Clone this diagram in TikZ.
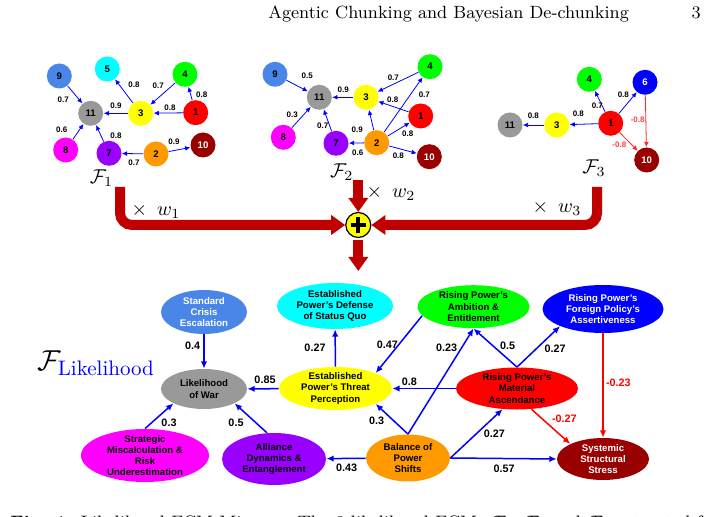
\documentclass[tikz,border=0pt]{standalone}
\usepackage{fontspec}
\setsansfont{Liberation Sans}
\usepackage{amsmath}
\usetikzlibrary{shapes.geometric,arrows.meta,positioning}

\definecolor{fcmcfblue}{HTML}{4A86E8}
\definecolor{fcmcyan}{HTML}{00FFFF}
\definecolor{fcmgreen}{HTML}{00FF00}
\definecolor{fcmblue}{HTML}{0000FF}
\definecolor{fcmyellow}{HTML}{FFFF00}
\definecolor{fcmred}{HTML}{FF0000}
\definecolor{fcmmagenta}{HTML}{FF00FF}
\definecolor{fcmgray}{HTML}{999999}
\definecolor{fcmpurple}{HTML}{9900FF}
\definecolor{fcmorange}{HTML}{FF9900}
\definecolor{fcmdarkred}{HTML}{990000}
\definecolor{mixred}{HTML}{C00000}

\begin{document}
\begin{tikzpicture}[x=0.5pt,y=-0.5pt,
  fnode/.style={circle,inner sep=0pt,minimum size=12.5pt,font=\fontsize{4.8}{5.8}\selectfont\sffamily\bfseries},
  fedge/.style={draw=fcmblue,line width=0.4pt,-{Latex[length=2.6pt,width=2.4pt]}},
  fnedge/.style={draw=fcmred!85,line width=0.4pt,-{Latex[length=2.6pt,width=2.4pt]}},
  flbl/.style={inner sep=0pt,font=\fontsize{4}{4.8}\selectfont\sffamily\bfseries},
  bnode/.style={ellipse,inner xsep=0pt,inner ysep=-1.5pt,align=center,font=\fontsize{4.8}{5.6}\selectfont\sffamily\bfseries},
  bedge/.style={draw=fcmblue,line width=0.75pt,-{Latex[length=3.6pt,width=3.2pt]}},
  bnedge/.style={draw=fcmred,line width=0.75pt,-{Latex[length=3.6pt,width=3.2pt]}},
  blbl/.style={inner sep=0pt,font=\fontsize{5.4}{6.4}\selectfont\sffamily\bfseries},
  mixarrow/.style={draw=mixred,line width=5pt,-{Triangle[length=7pt,width=9.5pt]}},
  sumnode/.style={circle,draw=black,line width=0.6pt,fill=fcmyellow,minimum size=12.5pt,inner sep=0pt},
  wlbl/.style={inner sep=0pt,font=\fontsize{10}{12}\selectfont}]
\useasboundingbox (0,0) rectangle (704,517);
\clip (0,0) rectangle (704,517);

\node[anchor=base west,inner sep=0pt,font=\fontsize{8.85}{11}\selectfont] (hdr) at (268,19) {Agentic Chunking and Bayesian De-chunking};
\node[anchor=base east,inner sep=0pt,font=\fontsize{8.85}{11}\selectfont] (pgno) at (701,19) {3};

% F1
\node[fnode,fill=fcmcfblue] (a9) at (59.3,76) {9};
\node[fnode,fill=fcmcyan] (a5) at (107.3,69) {5};
\node[fnode,fill=fcmgreen] (a4) at (185,74.3) {4};
\node[fnode,fill=fcmgray] (a11) at (90.7,113.3) {11};
\node[fnode,fill=fcmyellow] (a3) at (140.7,113.3) {3};
\node[fnode,fill=fcmred] (a1) at (195.7,112.7) {1};
\node[fnode,fill=fcmmagenta] (a8) at (65.7,150) {8};
\node[fnode,fill=fcmpurple] (a7) at (109,153.3) {7};
\node[fnode,fill=fcmorange] (a2) at (156,154) {2};
\node[fnode,fill=fcmdarkred,text=white] (a10) at (203,145) {10};
\draw[fedge] (a9) -- (a11) node[flbl] at (63.3,99.3) {0.7};
\draw[fedge] (a3) -- (a5) node[flbl] at (134,85) {0.8};
\draw[fedge] (a4) -- (a3) node[flbl] at (158.3,86) {0.7};
\draw[fedge] (a1) -- (a4) node[flbl] at (201.7,94.3) {0.8};
\draw[fedge] (a3) -- (a11) node[flbl] at (116,106) {0.9};
\draw[fedge] (a1) -- (a3) node[flbl] at (170,107.7) {0.8};
\draw[fedge] (a8) -- (a11) node[flbl] at (61.7,129.3) {0.6};
\draw[fedge] (a7) -- (a11) node[flbl] at (116,135.3) {0.8};
\draw[fedge] (a2) -- (a7) node[flbl] at (134,162.3) {0.7};
\draw[fedge] (a2) -- (a10) node[flbl] at (174,141.7) {0.9};
\node (f1lbl) at (101.5,178) {$\mathcal{F}_1$};

% F2
\node[fnode,fill=fcmcfblue] (b9) at (275,74.3) {9};
\node[fnode,fill=fcmgreen] (b4) at (430,66.7) {4};
\node[fnode,fill=fcmgray] (b11) at (319.3,97.3) {11};
\node[fnode,fill=fcmyellow] (b3) at (366,97.3) {3};
\node[fnode,fill=fcmred] (b1) at (420.7,116) {1};
\node[fnode,fill=fcmmagenta] (b8) at (283.3,137.3) {8};
\node[fnode,fill=fcmpurple] (b7) at (336,143.3) {7};
\node[fnode,fill=fcmorange] (b2) at (376.7,142.7) {2};
\node[fnode,fill=fcmdarkred,text=white] (b10) at (429.3,156.7) {10};
\draw[fedge] (b9) -- (b11) node[flbl] at (307.3,76) {0.5};
\draw[fedge] (b4) -- (b3) node[flbl] at (393.3,77.3) {0.7};
\draw[fedge] (b2) -- (b4) node[flbl] at (424.3,95) {0.7};
\draw[fedge] (b3) -- (b11) node[flbl] at (343.3,89.3) {0.9};
\draw[fedge] (b1) -- (b3) node[flbl] at (392.7,99.3) {0.8};
\draw[fedge] (b8) -- (b11) node[flbl] at (292.3,115) {0.3};
\draw[fedge] (b7) -- (b11) node[flbl] at (322.7,126) {0.7};
\draw[fedge] (b2) -- (b3) node[flbl] at (357.3,130) {0.9};
\draw[fedge] (b2) -- (b7) node[flbl] at (357.7,152.3) {0.6};
\draw[fedge] (b2) -- (b1) node[flbl] at (407.7,133.3) {0.8};
\draw[fedge] (b2) -- (b10) node[flbl] at (398.3,155.7) {0.8};
\node (f2lbl) at (341.7,171.7) {$\mathcal{F}_2$};

% F3
\node[fnode,fill=fcmgreen] (c4) at (589.3,79.3) {4};
\node[fnode,fill=fcmblue,text=white] (c6) at (645,82.3) {6};
\node[fnode,fill=fcmgray] (c11) at (510,125) {11};
\node[fnode,fill=fcmyellow] (c3) at (556.7,125) {3};
\node[fnode,fill=fcmred] (c1) at (610.7,123.3) {1};
\node[fnode,fill=fcmdarkred,text=white] (c10) at (646.7,160) {10};
\draw[fedge] (c3) -- (c11) node[flbl] at (533.3,116) {0.8};
\draw[fedge] (c1) -- (c3) node[flbl] at (578.3,113.3) {0.8};
\draw[fedge] (c1) -- (c4) node[flbl] at (597.3,106) {0.7};
\draw[fedge] (c1) -- (c6) node[flbl] at (623.3,95) {0.8};
\draw[fnedge] (c6) -- (c10) node[flbl,text=fcmred!75] at (637.7,119.3) {-0.8};
\draw[fnedge] (c1) -- (c10) node[flbl,text=fcmred!75] at (619.3,145) {-0.8};
\node (f3lbl) at (594,168.3) {$\mathcal{F}_3$};

% mixture
\coordinate (f1out) at (120,187);
\coordinate (f2out) at (358.3,180);
\coordinate (f3out) at (597,187);
\coordinate (mixout) at (358.3,271);
\node[sumnode] (sum) at (358.3,225) {};
\draw[line width=2pt] ([xshift=-3.8pt]sum.center) -- ([xshift=3.8pt]sum.center);
\draw[line width=2pt] ([yshift=-3.8pt]sum.center) -- ([yshift=3.8pt]sum.center);
\draw[mixarrow,rounded corners=6pt] (f1out) |- (sum.west);
\draw[mixarrow] (f2out) -- (sum.north);
\draw[mixarrow,rounded corners=6pt] (f3out) |- (sum.east);
\draw[mixarrow] ([yshift=-1.2pt]sum.south) -- (mixout);
\node[wlbl] (w1) at (156,211) {$\times$\hspace{5pt}$w_1$};
\node[wlbl] (w2) at (391,193) {$\times$\hspace{5pt}$w_2$};
\node[wlbl] (w3) at (557,208) {$\times$\hspace{5pt}$w_3$};

% likelihood FCM
\node[font=\fontsize{15}{18}\selectfont] (flik) at (96,363) {$\mathcal{F}_{\text{\color{fcmblue}Likelihood}}$};
\node[bnode,fill=fcmcfblue,text=white,minimum width=43pt,minimum height=22pt] (sce) at (204,312) {Standard\\Crisis\\Escalation};
\node[bnode,fill=fcmgray,minimum width=43pt,minimum height=20pt] (war) at (204,389) {Likelihood\\of War};
\node[bnode,fill=fcmcyan,minimum width=58pt,minimum height=23pt] (def) at (335,306) {Established\\Power's Defense\\of Status Quo};
\node[bnode,fill=fcmyellow,minimum width=56.5pt,minimum height=21.5pt] (thr) at (335.5,388.5) {Established\\Power's Threat\\Perception};
\node[bnode,fill=fcmgreen,minimum width=56pt,minimum height=21.5pt] (amb) at (473.5,306.7) {Rising Power's\\Ambition \&\\Entitlement};
\node[bnode,fill=fcmblue,text=white,minimum width=60.5pt,minimum height=24pt] (ass) at (603,309) {Rising Power's\\Foreign Policy's\\Assertiveness};
\node[bnode,fill=fcmred,minimum width=61pt,minimum height=21pt] (mat) at (517,388.5) {Rising Power's\\Material\\Ascendance};
\node[bnode,fill=fcmorange,minimum width=42pt,minimum height=23.5pt] (bal) at (408,458) {Balance of\\Power\\Shifts};
\node[bnode,fill=fcmdarkred,text=white,minimum width=46pt,minimum height=21pt] (sys) at (603,459) {Systemic\\Structural\\Stress};
\node[bnode,fill=fcmmagenta,minimum width=64pt,minimum height=26.5pt] (str) at (145,455.5) {Strategic\\Miscalculation \&\\Risk\\Underestimation};
\node[bnode,fill=fcmpurple,minimum width=52pt,minimum height=26pt] (all) at (274,459) {Alliance\\Dynamics \&\\Entanglement};

\draw[bedge] (sce) -- (war) node[blbl] at (192.7,346) {0.4};
\draw[bedge] (thr) -- (war) node[blbl] at (265,379.3) {0.85};
\draw[bedge] (thr) -- (def) node[blbl] at (315,347.7) {0.27};
\draw[bedge] (str.north) -- (war.south west) node[blbl] at (169,422.7) {0.3};
\draw[bedge] (all.105) -- (war.south east) node[blbl] at (236,422.7) {0.5};
\draw[bedge] (bal) -- (all) node[blbl] at (346.7,467.3) {0.43};
\draw[bedge] (amb.190) -- (thr.north east) node[blbl] at (387.3,344.3) {0.47};
\draw[bedge] (bal.north) -- (amb.south) node[blbl] at (446.7,347.7) {0.23};
\draw[bedge] (mat.north) -- (amb.south) node[blbl] at (507.7,346) {0.5};
\draw[bedge] (mat.north) -- (ass.south west) node[blbl] at (555,349) {0.27};
\draw[bedge] (mat) -- (thr) node[blbl] at (409.3,381.7) {0.8};
\draw[bedge] (bal.north) -- (thr.south east) node[blbl] at (376.7,420.7) {0.3};
\draw[bedge] (bal.east) -- (mat.235) node[blbl] at (494.3,434) {0.27};
\draw[bedge] (bal.east) -- (sys.west) node[blbl] at (504,468.3) {0.57};
\draw[bnedge] (mat.305) -- (sys.north west) node[blbl,text=fcmred] at (564.3,418.3) {-0.27};
\draw[bnedge] (ass) -- (sys) node[blbl,text=fcmred] at (618.3,382.3) {-0.23};

\node[anchor=base west,inner sep=0pt,font=\fontsize{9}{11}\selectfont] (capt) at (10,528) {\textbf{Fig. 1.} Likelihood FCM Mixture. The 3 likelihood FCMs $\mathcal{F}_1$, $\mathcal{F}_2$ and $\mathcal{F}_3$ extracted from the};
\end{tikzpicture}
\end{document}
